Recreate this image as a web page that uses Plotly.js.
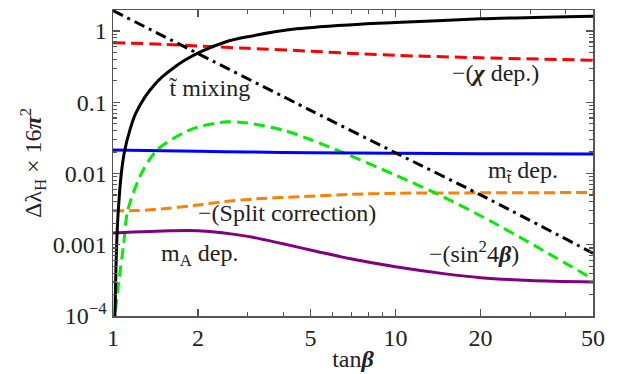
<!DOCTYPE html>
<html>
<head>
<meta charset="utf-8">
<script src="https://cdn.plot.ly/plotly-3.0.1.min.js"></script>
<style>html,body{margin:0;padding:0;background:#fff;}#chart{width:641px;height:374px;}</style>
</head>
<body>
<div id="chart"></div>
<script>
// tan(beta) sample points and values
const mixT   = [1.016, 1.03, 1.044, 1.07, 1.10, 1.15, 1.2, 1.3, 1.4, 1.5, 1.65, 1.8, 2.03, 2.5, 2.96, 4.46, 7.67, 10, 20, 50];
const mixV   = [1e-4, 0.001, 0.003, 0.01, 0.021, 0.042, 0.068, 0.12, 0.175, 0.23, 0.31, 0.39, 0.505, 0.70, 0.82, 1.07, 1.25, 1.31, 1.48, 1.61];

const chiT   = [1, 1.5, 2, 3, 5, 7.67, 10, 20, 50];
const chiV   = [0.684, 0.65, 0.615, 0.57, 0.52, 0.475, 0.455, 0.42, 0.388];

const invT   = [1, 2, 5, 10, 20, 50];
const invV   = [1.93, 0.48, 0.077, 0.0195, 0.0050, 7.6e-4];

const mstT   = [1, 1.5, 2, 3, 5, 10, 20, 50];
const mstV   = [0.0213, 0.0208, 0.0205, 0.0200, 0.0196, 0.0192, 0.0189, 0.0187];

const splitT = [1, 1.2, 1.41, 2.03, 2.49, 3.2, 4.58, 7, 10.3, 20, 50];
const splitV = [0.00299, 0.00302, 0.00311, 0.00363, 0.00403, 0.0044, 0.00473, 0.0051, 0.00528, 0.00535, 0.0054];

const sinT   = [1.012, 1.016, 1.05, 1.09, 1.127, 1.26, 1.43, 1.77, 2.0, 2.53, 3.0, 4.0, 5.0, 6.5, 10, 14, 21.6, 33, 50];
const sinV   = [7e-5, 1e-4, 3.2e-4, 0.001, 0.003, 0.01, 0.0213, 0.037, 0.045, 0.053, 0.051, 0.0406, 0.030, 0.0197, 0.0095, 0.0052, 0.00217, 8.5e-4, 3.3e-4];

const maT    = [1, 1.6, 2, 3, 4, 5.27, 7, 10, 15, 20, 30, 50];
const maV    = [0.00146, 0.00157, 0.00157, 0.00131, 0.00103, 8.05e-4, 6.3e-4, 4.9e-4, 3.9e-4, 3.45e-4, 3.15e-4, 3.0e-4];

const xTickVals = [1, 2, 5, 10, 20, 50];
const xTickText = ['1', '2', '5', '10', '20', '50'];
const xMinor    = [3, 4, 6, 7, 8, 9, 30, 40];
const yTickVals = [1e-4, 0.001, 0.01, 0.1, 1];
const yTickText = ['10<sup>\u22124</sup>', '0.001', '0.01', '0.1', '1'];
const yMinor = [];
for (const d of [1e-4, 1e-3, 1e-2, 1e-1, 1]) for (let k = 2; k <= 9; k++) if (d * k <= 2) yMinor.push(+(d * k).toPrecision(3));

const labelText = ['t\u0303 mixing', '\u2212(<b><i>\u03c7</i></b> dep.)', 'm<sub>t\u0303</sub> dep.', '\u2212(Split correction)', 'm<sub>A</sub> dep.', '\u2212(sin<sup>2</sup>4<b><i>\u03b2</i></b>)'];
const labelT = [2.20, 22.5, 28.2, 4.13, 2.03, 18.9];
const labelV = [0.157, 0.255, 0.0105, 0.0028, 7.2e-4, 8.0e-4];

const FONT = 'Liberation Serif, Times New Roman, serif';
const FS = 24;

function tr(x, y, color, dash, width) {
  return {x: x, y: y, type: 'scatter', mode: 'lines',
    line: {color: color, dash: dash, width: width || 3, shape: 'spline', smoothing: 0.8},
    hoverinfo: 'skip'};
}

const data = [
  tr(chiT, chiV, '#ff0000', '12px,6px'),
  tr(splitT, splitV, '#ff8000', '11px,5px'),
  tr(sinT, sinV, '#00ee00', '11px,6px'),
  tr(mstT, mstV, '#0000ff', 'solid'),
  tr(maT, maV, '#800080', 'solid'),
  tr(invT, invV, '#000000', '11px,5px,3px,5px'),
  tr(mixT, mixV, '#000000', 'solid')
];

const annotations = labelText.map((t, i) => ({
  x: Math.log10(labelT[i]), y: Math.log10(labelV[i]), xref: 'x', yref: 'y',
  text: t, showarrow: false, font: {family: FONT, size: FS, color: '#222'}
}));

const layout = {
  width: 641, height: 374,
  margin: {l: 113, r: 48, t: 10, b: 58},
  paper_bgcolor: '#fff', plot_bgcolor: '#fff',
  showlegend: false,
  font: {family: FONT, size: FS, color: '#222'},
  xaxis: {
    type: 'log', range: [0, Math.log10(50)],
    tickmode: 'array', tickvals: xTickVals, ticktext: xTickText,
    ticks: 'inside', ticklen: 7, tickwidth: 1.2, tickcolor: '#555',
    minor: {tickmode: 'array', tickvals: xMinor, ticks: 'inside', ticklen: 4, tickcolor: '#555', showgrid: false},
    showline: true, linecolor: '#555', linewidth: 1.5, mirror: 'ticks',
    showgrid: false, zeroline: false,
    tickfont: {family: FONT, size: FS, color: '#222'},
    title: {text: 'tan<b><i>\u03b2</i></b>', font: {family: FONT, size: FS, color: '#222'}, standoff: 0}
  },
  yaxis: {
    type: 'log', range: [-4, 0.294],
    tickmode: 'array', tickvals: yTickVals, ticktext: yTickText,
    ticks: 'inside', ticklen: 7, tickwidth: 1.2, tickcolor: '#555',
    minor: {tickmode: 'array', tickvals: yMinor, ticks: 'inside', ticklen: 4, tickcolor: '#555', showgrid: false},
    showline: true, linecolor: '#555', linewidth: 1.5, mirror: 'ticks',
    showgrid: false, zeroline: false,
    tickfont: {family: FONT, size: FS, color: '#222'},
    title: {text: '\u0394\u03bb<sub>H</sub> \u00d7 16<b><i>\u03c0</i></b><sup>2</sup>', font: {family: FONT, size: FS, color: '#222'}, standoff: 4}
  },
  annotations: annotations
};

Plotly.newPlot('chart', data, layout, {staticPlot: true, displayModeBar: false});
</script>
</body>
</html>
